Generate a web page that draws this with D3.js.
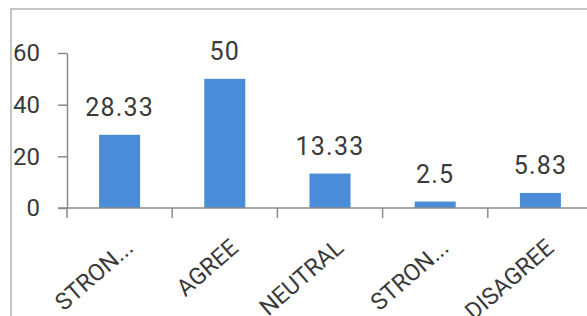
<!DOCTYPE html>
<html>
<head>
<meta charset="utf-8">
<script src="https://cdn.jsdelivr.net/npm/d3@7"></script>
<style>
  html, body { margin: 0; padding: 0; background: #fff; overflow: hidden; }
  svg { display: block; font-family: Roboto, "Noto Sans", sans-serif; }
</style>
</head>
<body>
<svg id="chart"></svg>
<script>
// responses (full names, labels shown truncated on the axis)
const categories = ["STRONGLY AGREE", "AGREE", "NEUTRAL", "STRONGLY DISAGREE", "DISAGREE"];
const tickLabels = ["STRON...", "AGREE", "NEUTRAL", "STRON...", "DISAGREE"];
const values = [28.33, 50, 13.33, 2.5, 5.83];
const yTicks = [0, 20, 40, 60];

const width = 587;
const height = 316;

const svg = d3.select("#chart")
    .attr("width", width)
    .attr("height", height);

// card border (only top + left edge are visible in the crop)
svg.append("path")
    .attr("d", `M11,${height} V9 H${width}`)
    .attr("fill", "none")
    .attr("stroke", "#c4c4c4")
    .attr("stroke-width", 2);

const x = d3.scaleBand()
    .domain(categories)
    .range([67, 593]);

const y = d3.scaleLinear()
    .domain([0, 60])
    .range([208, 53]);

const barW = x.bandwidth() * 0.39;
const axisColor = "#8a8a8a";
const textColor = "#3a3a3a";

// bars
svg.append("g")
    .selectAll("rect")
    .data(values)
    .join("rect")
    .attr("x", (d, i) => x(categories[i]) + (x.bandwidth() - barW) / 2)
    .attr("y", d => y(d))
    .attr("width", barW)
    .attr("height", d => y(0) - y(d))
    .attr("fill", "#4a8cd7");

// value labels
svg.append("g")
    .attr("text-anchor", "middle")
    .attr("font-size", 25)
    .attr("letter-spacing", 1.2)
    .attr("fill", textColor)
    .selectAll("text")
    .data(values)
    .join("text")
    .attr("x", (d, i) => x(categories[i]) + x.bandwidth() / 2)
    .attr("y", d => y(d) - 19)
    .text(d => d);

// y axis
const yAxis = svg.append("g")
    .attr("transform", `translate(67,0)`)
    .call(d3.axisLeft(y).tickValues(yTicks).tickSize(9).tickPadding(18).tickSizeOuter(0));
yAxis.select(".domain").attr("stroke", axisColor).attr("stroke-width", 1.5);
yAxis.selectAll(".tick line").attr("stroke", axisColor).attr("stroke-width", 1.5);
yAxis.selectAll(".tick text")
    .attr("font-size", 24)
    .attr("font-family", "Roboto, sans-serif")
    .attr("fill", textColor);

// x axis: ticks at band boundaries
svg.append("line")
    .attr("x1", 58).attr("x2", width)
    .attr("y1", y(0)).attr("y2", y(0))
    .attr("stroke", axisColor)
    .attr("stroke-width", 1.5);

svg.append("g")
    .selectAll("line")
    .data(categories)
    .join("line")
    .attr("x1", d => x(d)).attr("x2", d => x(d))
    .attr("y1", y(0)).attr("y2", y(0) + 10)
    .attr("stroke", axisColor)
    .attr("stroke-width", 1.5);

// rotated category labels
svg.append("g")
    .attr("text-anchor", "end")
    .attr("font-size", 23.5)
    .attr("fill", textColor)
    .selectAll("text")
    .data(categories)
    .join("text")
    .attr("transform", d => `translate(${x(d) + x.bandwidth() / 2 + 15},${y(0) + 42}) rotate(-41)`)
    .text((d, i) => tickLabels[i]);
</script>
</body>
</html>
